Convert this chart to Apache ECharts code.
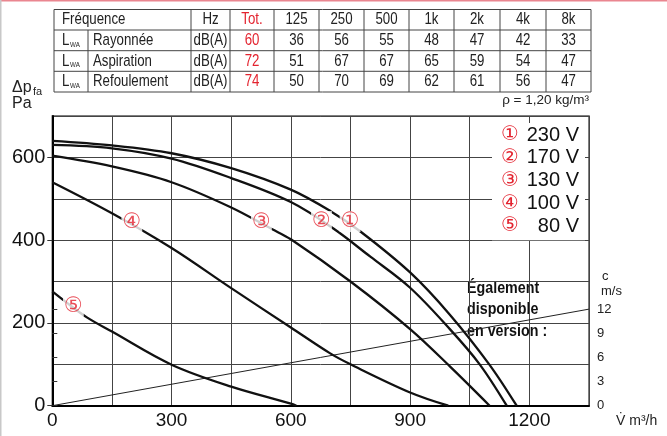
<!DOCTYPE html>
<html><head><meta charset="utf-8">
<script src="https://cdn.jsdelivr.net/npm/echarts@6/dist/echarts.min.js"></script>
<style>html,body{margin:0;padding:0;background:#fff}#c{width:667px;height:436px}</style>
</head><body><div id="c"></div>
<script>
// ---- table data ----
const bandHeaders = ['Hz', 'Tot.', '125', '250', '500', '1k', '2k', '4k', '8k'];
const rowLabels = ['Rayonnée', 'Aspiration', 'Refoulement'];
const rowUnit = 'dB(A)';
const rayonnee = [60, 36, 56, 55, 48, 47, 42, 33];
const aspiration = [72, 51, 67, 67, 65, 59, 54, 47];
const refoulement = [74, 50, 70, 69, 62, 61, 56, 47];

// ---- fan curves (flow m3/h, pressure Pa) ----
const seriesNames = ['230 V', '170 V', '130 V', '100 V', '80 V'];
const circled = ['①', '②', '③', '④', '⑤'];
const c1X = [0, 150, 300, 450, 600, 700, 775, 900, 1000, 1099, 1168];
const c1Y = [640, 629, 610, 574, 522, 470, 421, 322, 220, 100, 0];
const c2X = [0, 150, 300, 450, 600, 707, 800, 900, 1000, 1075, 1143];
const c2Y = [630, 622, 597, 550, 492, 428, 360, 285, 185, 100, 0];
const c3X = [0, 150, 300, 450, 552, 600, 750, 900, 1000, 1100];
const c3Y = [604, 578, 540, 479, 427, 402, 300, 185, 95, 0];
const c4X = [0, 150, 300, 450, 600, 698, 750, 900, 996];
const c4Y = [540, 465, 381, 284, 189, 127, 100, 32, 0];
const c5X = [0, 32, 86, 150, 300, 450, 600, 614];
const c5Y = [276, 252, 214, 179, 99, 46, 5, 0];
// curve label anchors (flow, pressure)
const labelX = [749, 677, 526, 200, 53];
const labelY = [445, 445, 443, 443, 240];
// velocity line (flow m3/h, c m/s)
const velX = [0, 1350];
const velY = [0, 12];

// ---- axes ----
const xTicks = [0, 300, 600, 900, 1200];
const yTicks = [0, 200, 400, 600];
const cTicks = [0, 3, 6, 9, 12];

const RED = '#e3232f';
const SANS = '"Liberation Sans", Arial, sans-serif';
const CIRC = '"DejaVu Sans", sans-serif';

const zip = (xs, ys) => xs.map((x, i) => [x, ys[i]]);
const curves = [zip(c1X, c1Y), zip(c2X, c2Y), zip(c3X, c3Y), zip(c4X, c4Y), zip(c5X, c5Y)];

// ---- table graphic ----
const colX = [54, 88, 191, 230, 274, 319, 364, 409, 454, 500, 546, 591];
const rowY = [9.5, 30, 50.7, 71.3, 92];
const g = [];
const line = (x1, y1, x2, y2) => g.push({type: 'line', silent: true, shape: {x1, y1, x2, y2}, style: {stroke: '#444', lineWidth: 1}});
const txt = (text, x, y, opt, sx) => g.push({type: 'text', silent: true, x, y, scaleX: sx || 1,
  style: Object.assign({text, x: 0, y: 0, fill: '#222', font: '17px ' + SANS, align: 'center', verticalAlign: 'middle'}, opt || {})});
const TS = 0.78;
line(colX[0], rowY[0], colX[11], rowY[0]);
for (let r = 1; r < 5; r++) line(colX[0], rowY[r], colX[11], rowY[r]);
line(colX[0], rowY[0], colX[0], rowY[4]);
line(colX[1], rowY[1], colX[1], rowY[4]);
for (let c = 2; c < 12; c++) line(colX[c], rowY[0], colX[c], rowY[4]);
const mid = (a, b) => (a + b) / 2;
txt('Fréquence', 62, mid(rowY[0], rowY[1]), {align: 'left'}, TS);
bandHeaders.forEach((h, i) => txt(h, mid(colX[i + 2], colX[i + 3]), mid(rowY[0], rowY[1]), i === 1 ? {fill: RED} : {}, TS));
[rayonnee, aspiration, refoulement].forEach((vals, r) => {
  const cy = mid(rowY[r + 1], rowY[r + 2]);
  txt('L', 62, cy, {align: 'left'}, TS);
  txt('WA', 70, cy + 4, {align: 'left', font: '8px ' + SANS}, TS);
  txt(rowLabels[r], 93, cy, {align: 'left'}, TS);
  txt(rowUnit, mid(colX[2], colX[3]), cy, {}, TS);
  vals.forEach((v, i) => txt(String(v), mid(colX[i + 3], colX[i + 4]), cy, i === 0 ? {fill: RED} : {}, TS));
});
// other texts
txt('Δp', 12, 88, {align: 'left', font: '16px ' + SANS});
txt('fa', 33, 92, {align: 'left', font: '11px ' + SANS});
txt('Pa', 12, 104, {align: 'left', font: '16px ' + SANS});
txt('ρ = 1,20 kg/m³', 589, 100, {align: 'right', font: '13.5px ' + SANS});
txt('c', 602, 276, {align: 'left', font: '13px ' + SANS});
txt('m/s', 601, 291, {align: 'left', font: '13px ' + SANS});
['Également', 'disponible', 'en version :'].forEach((t, i) =>
  txt(t, 467, 288 + i * 21.7, {align: 'left', font: 'bold 17px ' + SANS, fill: '#111'}, 0.84));
// page frame
g.push({type: 'rect', silent: true, shape: {x: 0, y: 0, width: 667, height: 1.5}, style: {fill: '#ea8690'}});
g.push({type: 'rect', silent: true, shape: {x: 0, y: 0, width: 1.5, height: 436}, style: {fill: '#c8c8c8'}});

const series = curves.map((d, i) => ({
  name: seriesNames[i], type: 'line', data: d, smooth: 0.35, showSymbol: false, silent: true,
  lineStyle: {color: '#111', width: 2.3}, itemStyle: {color: '#111'}, z: 3
}));
series.push({
  type: 'line', yAxisIndex: 1, data: zip(velX, velY), showSymbol: false, silent: true,
  lineStyle: {color: '#222', width: 1}, z: 2
});
series.push({
  type: 'scatter', data: zip(labelX, labelY), symbolSize: 0, silent: true, z: 6,
  label: {show: true, position: 'inside', formatter: p => circled[p.dataIndex], color: RED,
    fontSize: 21, fontFamily: CIRC, backgroundColor: '#fff', padding: [0, 1], lineHeight: 21}
});

const chart = echarts.init(document.getElementById('c'), null, {renderer: 'canvas'});
chart.setOption({
  animation: false,
  backgroundColor: '#fff',
  grid: {left: 52.3, right: 78, top: 116, bottom: 30.3, show: true, borderColor: '#555', borderWidth: 1.5},
  legend: {
    data: seriesNames, orient: 'vertical', left: 492, top: 123, itemGap: 2.8, itemWidth: 0, itemHeight: 0,
    padding: [2, 6, 4, 3], backgroundColor: '#fff', selectedMode: false, z: 10,
    lineStyle: {opacity: 0}, itemStyle: {opacity: 0},
    formatter: n => '{n|' + circled[seriesNames.indexOf(n)] + '}{v|' + n + '}',
    textStyle: {rich: {
      n: {color: RED, fontSize: 20, width: 22, fontFamily: CIRC},
      v: {color: '#111', fontSize: 20, width: 56, align: 'right', fontFamily: SANS}
    }}
  },
  xAxis: {
    type: 'value', min: 0, max: 1350, interval: 150,
    axisLine: {onZero: false, lineStyle: {color: '#000', width: 2}},
    axisTick: {show: false},
    axisLabel: {formatter: v => xTicks.includes(v) ? String(v) : '', fontSize: 19, color: '#111', margin: 6, fontFamily: SANS, showMaxLabel: true},
    splitLine: {lineStyle: {color: '#444', width: 1}},
    name: 'V̇ m³/h', nameLocation: 'end', nameGap: 27,
    nameTextStyle: {fontSize: 14, color: '#222', fontFamily: SANS, verticalAlign: 'top', padding: [8, 0, 0, 0]}
  },
  yAxis: [
    {type: 'value', min: 0, max: 700, interval: 100,
      axisLine: {show: true, onZero: false, lineStyle: {color: '#000', width: 2}},
      axisTick: {show: true, customValues: yTicks, length: 5, lineStyle: {color: '#333'}},
      axisLabel: {customValues: yTicks, fontSize: 20, color: '#111', margin: 7, fontFamily: SANS},
      splitLine: {show: false}},
    {type: 'value', min: 0, max: 36, position: 'right',
      axisLine: {show: false},
      axisTick: {show: true, customValues: cTicks, length: 5, lineStyle: {color: '#333'}},
      axisLabel: {customValues: cTicks, fontSize: 13, color: '#222', margin: 8, fontFamily: SANS},
      splitLine: {show: false}},
    {type: 'value', min: 0, max: 700, interval: 100, position: 'left',
      axisLine: {show: false}, axisTick: {show: false}, axisLabel: {show: false},
      splitLine: {lineStyle: {color: '#444', width: 1}}}
  ],
  graphic: g,
  series
});
</script></body></html>
